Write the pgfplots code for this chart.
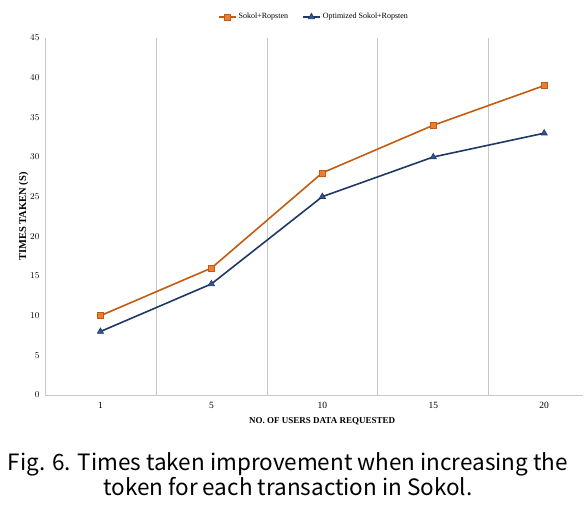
\documentclass[border=0pt]{standalone}
\usepackage{fontspec}
\setmainfont{Liberation Serif}
\newfontfamily\capfont{Noto Sans CJK KR}
\usepackage{pgfplots}
\pgfplotsset{compat=1.18}
\definecolor{orgL}{HTML}{C55A11}
\definecolor{orgF}{HTML}{ED7D31}
\definecolor{bluL}{HTML}{203864}
\definecolor{bluF}{HTML}{2F5597}
\definecolor{gridc}{HTML}{C8C8C8}
\begin{document}
\begin{tikzpicture}[x=1pt,y=1pt]
\path (0,0) rectangle (586,505);
\begin{axis}[
  at={(45pt,110pt)}, anchor=south west,
  scale only axis, width=538pt, height=357pt,
  xmin=-0.5, xmax=4.35, ymin=0, ymax=45,
  ytick={0,5,...,45},
  xtick={0,1,2,3,4}, xticklabels={1,5,10,15,20},
  axis lines=left, axis line style={-, gridc, line width=0.8pt},
  major tick length=0pt,
  extra x ticks={0.5,1.5,2.5,3.5}, extra x tick labels={},
  extra x tick style={grid=major, major grid style={gridc, line width=0.6pt}},
  tick label style={font=\fontsize{9.5}{10}\selectfont},
  yticklabel style={xshift=-2pt},
  xticklabel style={yshift=-4pt},
  xlabel={\textbf{NO. OF USERS DATA REQUESTED}},
  ylabel={\textbf{TIMES TAKEN (S)}},
  xlabel style={font=\fontsize{9}{10}\selectfont, at={(axis description cs:0.515,-0.073)}, anchor=center},
  ylabel style={font=\fontsize{10.5}{11}\selectfont, at={(axis description cs:-0.04,0.5)}, anchor=center, rotate=0},
  legend columns=2,
  legend style={draw=none, fill=none, at={(axis description cs:0.5,1.059)}, anchor=center,
    font=\fontsize{8}{9}\selectfont, /tikz/every even column/.append style={column sep=12pt}},
  clip=false,
]
\addplot[orgL, line width=1.6pt, mark=square*, mark size=3pt, mark options={fill=orgF, draw=orgL, line width=0.6pt}]
  coordinates {(0,10) (1,16) (2,28) (3,34) (4,39)};
\addlegendentry{Sokol+Ropsten}
\addplot[bluL, line width=1.6pt, mark=triangle*, mark size=3.6pt, mark options={fill=bluF, draw=bluL, line width=0.6pt}]
  coordinates {(0,8) (1,14) (2,25) (3,30) (4,33)};
\addlegendentry{Optimized Sokol+Ropsten}
\end{axis}
\node[align=center, font=\capfont\fontsize{22.5}{25}\selectfont] at (288,30.5)
  {Fig. 6. Times taken improvement when increasing the\\ token for each transaction in Sokol.};
\end{tikzpicture}
\end{document}
